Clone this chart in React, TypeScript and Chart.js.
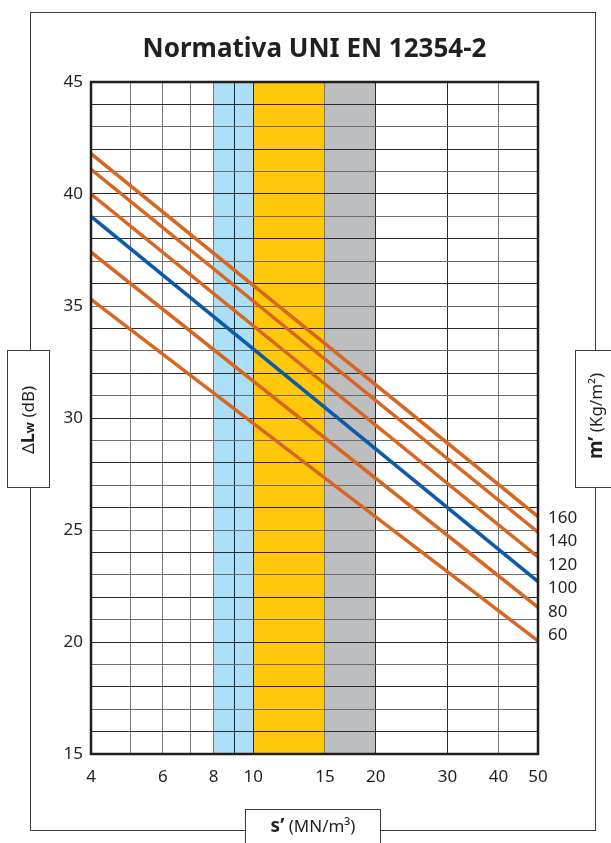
import React, { useEffect, useRef } from "react";
import { Chart, registerables } from "chart.js";

Chart.register(...registerables);

// ---- data ----
const sRange = [4, 50]; // s' (MN/m3), start and end of each line
const m160 = [41.8, 25.6];
const m140 = [41.1, 24.9];
const m120 = [40.0, 23.8];
const m100 = [39.0, 22.7];
const m80 = [37.4, 21.55];
const m60 = [35.3, 20.05];
const massLabels = ["160", "140", "120", "100", "80", "60"];
const labelLevels = [25.55, 24.5, 23.45, 22.4, 21.35, 20.3]; // dB level of each right-hand label
const xGridValues = [4, 5, 6, 7, 8, 9, 10, 15, 20, 30, 40, 50];
const xTickLabels = [4, 6, 8, 10, 15, 20, 30, 40, 50];
const yMin = 15;
const yMax = 45;
const bandStarts = [8, 10, 15];
const bandEnds = [10, 15, 20];

const TITLE = "Normativa UNI EN 12354-2";

// ---- styles ----
const ORANGE = "#d8661f";
const BLUE = "#0b5ba8";
const BAND_COLORS = ["#aadff7", "#ffc80a", "#bcbec0"];
const TEXT = "#231f20";
const FONT = "'Noto Sans', 'Open Sans', sans-serif";
const xGridDark = [9, 10, 20, 30];

function drawSegments(
  ctx: CanvasRenderingContext2D,
  segs: { t: string; font: string; dy?: number }[],
  cx: number,
  cy: number,
  rotate: number
) {
  ctx.save();
  ctx.translate(cx, cy);
  if (rotate) ctx.rotate(rotate);
  let total = 0;
  for (const s of segs) {
    ctx.font = s.font;
    total += ctx.measureText(s.t).width;
  }
  let x = -total / 2;
  ctx.textBaseline = "alphabetic";
  ctx.textAlign = "left";
  ctx.fillStyle = TEXT;
  for (const s of segs) {
    ctx.font = s.font;
    ctx.fillText(s.t, x, 6 + (s.dy || 0));
    x += ctx.measureText(s.t).width;
  }
  ctx.restore();
}

const decorPlugin = {
  id: "decor",
  beforeDraw(chart: any) {
    const { ctx, chartArea, scales } = chart;
    ctx.save();
    ctx.fillStyle = "#ffffff";
    ctx.fillRect(0, 0, chart.width, chart.height);
    const xs = scales.x;
    for (let i = 0; i < bandStarts.length; i++) {
      const x1 = xs.getPixelForValue(bandStarts[i]);
      const x2 = xs.getPixelForValue(bandEnds[i]);
      ctx.fillStyle = BAND_COLORS[i];
      ctx.fillRect(x1, chartArea.top, x2 - x1, chartArea.bottom - chartArea.top);
    }
    ctx.restore();
  },
  afterDraw(chart: any) {
    const { ctx, chartArea, scales } = chart;
    ctx.save();
    // plot border
    ctx.strokeStyle = TEXT;
    ctx.lineWidth = 2.5;
    ctx.strokeRect(
      chartArea.left,
      chartArea.top,
      chartArea.right - chartArea.left,
      chartArea.bottom - chartArea.top
    );
    // outer frame
    ctx.lineWidth = 1;
    ctx.strokeStyle = "#3a3a3a";
    ctx.strokeRect(30.5, 12.5, 565, 818);
    // label boxes
    ctx.fillStyle = "#ffffff";
    const boxes = [
      [7.5, 350.5, 42, 137],
      [575.5, 350.5, 45, 137],
      [245.5, 809.5, 135, 45],
    ];
    for (const b of boxes) {
      ctx.fillRect(b[0], b[1], b[2], b[3]);
      ctx.strokeRect(b[0], b[1], b[2], b[3]);
    }
    // title
    ctx.fillStyle = TEXT;
    ctx.font = `bold 26px ${FONT}`;
    ctx.textAlign = "center";
    ctx.textBaseline = "middle";
    ctx.fillText(TITLE, (chartArea.left + chartArea.right) / 2, 50);
    // axis titles
    drawSegments(
      ctx,
      [
        { t: "Δ", font: `17px ${FONT}` },
        { t: "L", font: `bold 18px ${FONT}` },
        { t: "w", font: `bold 13px ${FONT}` },
        { t: " (dB)", font: `17px ${FONT}` },
      ],
      28,
      420,
      -Math.PI / 2
    );
    drawSegments(
      ctx,
      [
        { t: "m’", font: `bold 19px ${FONT}` },
        { t: " (Kg/m²)", font: `17px ${FONT}` },
      ],
      596,
      416,
      -Math.PI / 2
    );
    drawSegments(
      ctx,
      [
        { t: "s’", font: `bold 19px ${FONT}` },
        { t: " (MN/m³)", font: `17px ${FONT}` },
      ],
      313,
      826,
      0
    );
    // right-hand mass labels
    ctx.font = `17px ${FONT}`;
    ctx.textAlign = "left";
    ctx.textBaseline = "middle";
    ctx.fillStyle = TEXT;
    const ys = scales.y;
    for (let i = 0; i < massLabels.length; i++) {
      ctx.fillText(massLabels[i], chartArea.right + 10, ys.getPixelForValue(labelLevels[i]));
    }
    ctx.restore();
  },
};

function lineData(vals: number[]) {
  return sRange.map((s, i) => ({ x: s, y: vals[i] }));
}

export default function App() {
  const ref = useRef<HTMLCanvasElement | null>(null);
  useEffect(() => {
    document.body.style.margin = "0";
    const canvas = ref.current!;
    const series = [
      { d: m160, c: ORANGE },
      { d: m140, c: ORANGE },
      { d: m120, c: ORANGE },
      { d: m80, c: ORANGE },
      { d: m60, c: ORANGE },
      { d: m100, c: BLUE },
    ];
    const chart = new Chart(canvas, {
      type: "scatter",
      data: {
        datasets: series.map((s) => ({
          data: lineData(s.d),
          showLine: true,
          borderColor: s.c,
          backgroundColor: s.c,
          borderWidth: 3.5,
          pointRadius: 0,
          pointHoverRadius: 0,
        })),
      },
      options: {
        animation: false,
        responsive: false,
        devicePixelRatio: 1,
        events: [],
        layout: { padding: { left: 0, right: 73, top: 82, bottom: 0 } },
        plugins: {
          legend: { display: false },
          tooltip: { enabled: false },
          title: { display: false },
        },
        scales: {
          x: {
            type: "logarithmic",
            min: 4,
            max: 50,
            afterBuildTicks: (scale: any) => {
              scale.ticks = xGridValues.map((v) => ({ value: v }));
            },
            afterFit: (scale: any) => {
              scale.height = 89;
            },
            border: { display: false },
            grid: {
              drawTicks: false,
              lineWidth: 1,
              color: (c: any) =>
                xGridDark.includes(c.tick && c.tick.value) ? "#2a2a2a" : "#7a7a7a",
            },
            ticks: {
              autoSkip: false,
              maxRotation: 0,
              minRotation: 0,
              padding: 13,
              color: TEXT,
              font: { family: FONT, size: 17 },
              callback: (v: any) => (xTickLabels.includes(Number(v)) ? String(v) : ""),
            },
          },
          y: {
            type: "linear",
            min: yMin,
            max: yMax,
            afterFit: (scale: any) => {
              scale.width = 91;
            },
            border: { display: false },
            grid: {
              drawTicks: false,
              lineWidth: 1,
              color: (c: any) =>
                c.tick && Math.round(c.tick.value) % 2 === 0 ? "#2a2a2a" : "#6e6e6e",
            },
            ticks: {
              stepSize: 1,
              autoSkip: false,
              padding: 8,
              color: TEXT,
              font: { family: FONT, size: 17 },
              callback: (v: any) => (Number(v) % 5 === 0 ? String(v) : ""),
            },
          },
        },
      },
      plugins: [decorPlugin],
    } as any);
    return () => chart.destroy();
  }, []);
  return (
    <canvas
      ref={ref}
      width={611}
      height={843}
      style={{ display: "block", width: 611, height: 843 }}
    />
  );
}
